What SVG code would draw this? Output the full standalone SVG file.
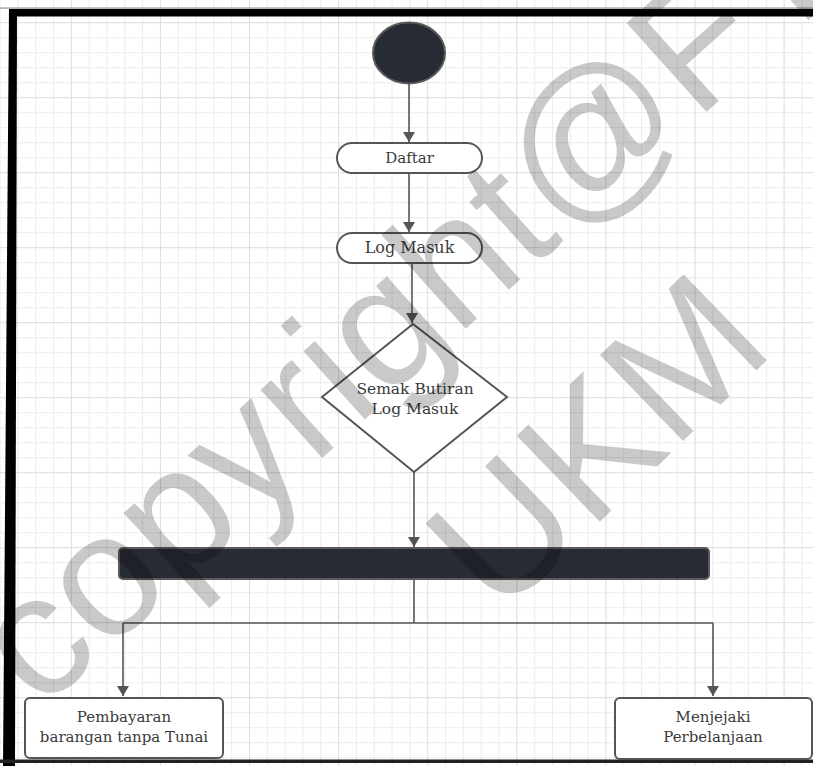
<svg xmlns="http://www.w3.org/2000/svg" width="813" height="766" viewBox="0 0 813 766">
<style>
.conn{fill:none;stroke:#555;stroke-width:1.6}
.shape{fill:#fff;stroke:#555;stroke-width:2}
.dark{fill:#272b33;stroke:#5a5a5a;stroke-width:2}
.lbl{font-family:"DejaVu Serif","Liberation Serif",serif;font-size:15px;fill:#3a3a3a;text-anchor:middle}
.wm{font-family:"Liberation Sans",Arial,sans-serif;font-size:174px;fill:#000;fill-opacity:0.21}
</style>
<defs>
<pattern id="grid" patternUnits="userSpaceOnUse" x="70.8" y="22.2" width="89.1" height="75">
<rect width="89.1" height="75" fill="#fff"/>
<g fill="#ececec">
<rect x="17.82" y="0" width="1" height="75"/>
<rect x="35.64" y="0" width="1" height="75"/>
<rect x="53.46" y="0" width="1" height="75"/>
<rect x="71.28" y="0" width="1" height="75"/>
<rect x="0" y="15" width="89.1" height="1"/>
<rect x="0" y="30" width="89.1" height="1"/>
<rect x="0" y="45" width="89.1" height="1"/>
<rect x="0" y="60" width="89.1" height="1"/>
</g>
<g fill="#dcdcdc">
<rect x="0" y="0" width="1" height="75"/>
<rect x="0" y="0" width="89.1" height="1"/>
</g>
</pattern>
<marker id="arr" viewBox="0 0 10 12" refX="10" refY="6" markerWidth="10" markerHeight="12" markerUnits="userSpaceOnUse" orient="auto">
<path d="M0,0 L10,6 L0,12 Z" fill="#555"/>
</marker>
</defs>
<rect width="813" height="766" fill="url(#grid)"/>
<g id="frame">
<rect x="0" y="7.5" width="813" height="1.2" fill="#999"/>
<rect x="9" y="9" width="804" height="7.5" fill="#000"/>
<polygon points="9,9 17,9 15,766 3,766" fill="#000"/>
<rect x="0" y="759.5" width="813" height="3.5" fill="#222"/>
</g>
<g id="connectors">
<path class="conn" d="M409,84 V142" marker-end="url(#arr)"/>
<path class="conn" d="M409,173 V232" marker-end="url(#arr)"/>
<path class="conn" d="M412,263 V323" marker-end="url(#arr)"/>
<path class="conn" d="M414,472 V547" marker-end="url(#arr)"/>
<path class="conn" d="M414,579 V623 M123,623 H713"/>
<path class="conn" d="M123,623 V696" marker-end="url(#arr)"/>
<path class="conn" d="M713,623 V696" marker-end="url(#arr)"/>
</g>
<g id="start">
<ellipse class="dark" cx="409" cy="53" rx="36" ry="30.5"/>
</g>
<g id="daftar">
<rect class="shape" x="337" y="143" width="145" height="30" rx="15"/>
<text class="lbl" x="409.5" y="163">Daftar</text>
</g>
<g id="logmasuk">
<rect class="shape" x="337" y="233" width="145" height="30" rx="15"/>
<text class="lbl" x="409.5" y="253" style="font-size:16px">Log Masuk</text>
</g>
<g id="semak">
<polygon class="shape" points="413,324 507,397 414,472 322,397"/>
<text class="lbl" x="415" y="394" style="font-size:15.5px">Semak Butiran</text>
<text class="lbl" x="415" y="414" style="font-size:15.5px">Log Masuk</text>
</g>
<g id="fork">
<rect class="dark" x="119" y="548" width="590" height="31" rx="4"/>
</g>
<g id="pembayaran">
<rect class="shape" x="25" y="698" width="198" height="60" rx="5"/>
<text class="lbl" x="124" y="722">Pembayaran</text>
<text class="lbl" x="124" y="742">barangan tanpa Tunai</text>
</g>
<g id="menjejaki">
<rect class="shape" x="615" y="698" width="197" height="61" rx="5"/>
<text class="lbl" x="713" y="722">Menjejaki</text>
<text class="lbl" x="713" y="742">Perbelanjaan</text>
</g>
<g id="watermark">
<text class="wm" transform="translate(40,712) rotate(-42)">copyright@FTSM</text>
<text class="wm" transform="translate(499,619) rotate(-44)">UKM</text>
</g>
</svg>
